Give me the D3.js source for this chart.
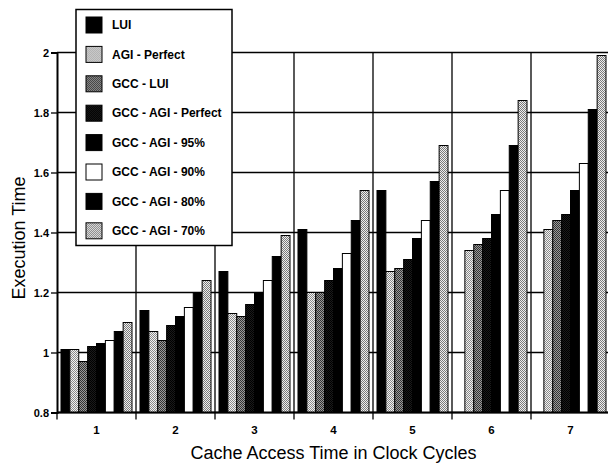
<!DOCTYPE html>
<html>
<head>
<meta charset="utf-8">
<script src="https://cdn.jsdelivr.net/npm/d3@7"></script>
<style>
  html, body { margin: 0; padding: 0; background: #fff; }
  svg { display: block; font-family: "Liberation Sans", Arial, Helvetica, sans-serif; }
</style>
</head>
<body>
<svg id="chart" width="608" height="465"></svg>
<script>
const categories = ["1", "2", "3", "4", "5", "6", "7"];
const seriesNames = ["LUI", "AGI - Perfect", "GCC - LUI", "GCC - AGI - Perfect",
                     "GCC - AGI - 95%", "GCC - AGI - 90%", "GCC - AGI - 80%", "GCC - AGI - 70%"];
const lui          = [1.01, 1.14, 1.27, 1.41, 1.54, null, null];
const agiPerfect   = [1.01, 1.07, 1.13, 1.20, 1.27, 1.34, 1.41];
const gccLui       = [0.97, 1.04, 1.12, 1.20, 1.28, 1.36, 1.44];
const gccAgiPerfect= [1.02, 1.09, 1.16, 1.24, 1.31, 1.38, 1.46];
const gccAgi95     = [1.03, 1.12, 1.20, 1.28, 1.38, 1.46, 1.54];
const gccAgi90     = [1.04, 1.15, 1.24, 1.33, 1.44, 1.54, 1.63];
const gccAgi80     = [1.07, 1.20, 1.32, 1.44, 1.57, 1.69, 1.81];
const gccAgi70     = [1.10, 1.24, 1.39, 1.54, 1.69, 1.84, 1.99];
const yTicks = [0.8, 1, 1.2, 1.4, 1.6, 1.8, 2];
const yTickLabels = ["0.8", "1", "1.2", "1.4", "1.6", "1.8", "2"];
const xTitle = "Cache Access Time in Clock Cycles";
const yTitle = "Execution Time";

const seriesValues = [lui, agiPerfect, gccLui, gccAgiPerfect, gccAgi95, gccAgi90, gccAgi80, gccAgi70];
const fills = ["#000", "url(#pLight)", "url(#pMid)", "url(#pDark)", "#000", "#fff", "#000", "url(#pLight2)"];

const svg = d3.select("#chart");
const mLeft = 57, mRight = 610, mTop = 52.5, mBottom = 412.5;

const defs = svg.append("defs");
function pattern(id, bg, fg) {
  const p = defs.append("pattern").attr("id", id).attr("patternUnits", "userSpaceOnUse")
    .attr("width", 2).attr("height", 2);
  p.append("rect").attr("width", 2).attr("height", 2).attr("fill", bg);
  p.append("rect").attr("x", 0).attr("y", 0).attr("width", 1).attr("height", 1).attr("fill", fg);
  p.append("rect").attr("x", 1).attr("y", 1).attr("width", 1).attr("height", 1).attr("fill", fg);
}
pattern("pLight", "#f2f2f2", "#8a8a8a");
pattern("pLight2", "#eeeeee", "#7a7a7a");
pattern("pMid", "#9a9a9a", "#333333");
pattern("pDark", "#1a1a1a", "#000000");

const x = d3.scaleBand().domain(categories).range([mLeft, mRight]).padding(0);
const xi = d3.scaleBand().domain(seriesNames).range([0, x.bandwidth()]).paddingInner(0).paddingOuter(0.45);
const y = d3.scaleLinear().domain([0.8, 2]).range([mBottom, mTop]);

// horizontal gridlines
svg.append("g").selectAll("line").data(yTicks).join("line")
  .attr("x1", mLeft).attr("x2", mRight)
  .attr("y1", d => y(d)).attr("y2", d => y(d))
  .attr("stroke", "#000").attr("stroke-width", 1.3);

// vertical gridlines at group boundaries
svg.append("g").selectAll("line").data(categories.slice(1)).join("line")
  .attr("x1", d => x(d)).attr("x2", d => x(d))
  .attr("y1", mTop).attr("y2", mBottom)
  .attr("stroke", "#000").attr("stroke-width", 1.3);

// bars
const barData = [];
seriesNames.forEach((s, si) => {
  categories.forEach((c, ci) => {
    const v = seriesValues[si][ci];
    if (v != null) barData.push({ s, si, c, v });
  });
});
svg.append("g").selectAll("rect").data(barData).join("rect")
  .attr("x", d => x(d.c) + xi(d.s))
  .attr("width", xi.bandwidth())
  .attr("y", d => y(d.v))
  .attr("height", d => y(0.8) - y(d.v))
  .attr("fill", d => fills[d.si])
  .attr("stroke", "#000").attr("stroke-width", 1);

// y axis
const yAxis = d3.axisLeft(y).tickValues(yTicks).tickSize(6).tickPadding(2)
  .tickFormat((d, i) => yTickLabels[i]);
const gy = svg.append("g").attr("transform", `translate(${mLeft},0)`).call(yAxis);
gy.select(".domain").attr("stroke-width", 2);
gy.selectAll(".tick line").attr("stroke-width", 1.3);
gy.selectAll("text").attr("font-size", 11).attr("font-weight", "bold")
  .attr("font-family", "Liberation Sans, Arial, sans-serif").attr("fill", "#000");

// x axis: labels at centers, ticks at boundaries
const xAxis = d3.axisBottom(x).tickSize(0).tickPadding(13);
const gx = svg.append("g").attr("transform", `translate(0,${mBottom})`).call(xAxis);
gx.select(".domain").remove();
gx.selectAll("text").attr("font-size", 11.5).attr("font-weight", "bold")
  .attr("font-family", "Liberation Sans, Arial, sans-serif").attr("fill", "#000");
svg.append("line").attr("x1", mLeft).attr("x2", mRight).attr("y1", mBottom).attr("y2", mBottom)
  .attr("stroke", "#000").attr("stroke-width", 2);
svg.append("g").selectAll("line").data(categories).join("line")
  .attr("x1", d => x(d)).attr("x2", d => x(d))
  .attr("y1", mBottom).attr("y2", mBottom + 7)
  .attr("stroke", "#000").attr("stroke-width", 1.3);

// titles
svg.append("text").attr("x", 333.5).attr("y", 459).attr("text-anchor", "middle")
  .attr("font-size", 18).attr("fill", "#000").text(xTitle);
svg.append("text").attr("transform", "translate(25,238) rotate(-90)").attr("text-anchor", "middle")
  .attr("font-size", 18).attr("fill", "#000").text(yTitle);

// legend
const lg = svg.append("g");
lg.append("rect").attr("x", 76).attr("y", 9.5).attr("width", 156).attr("height", 236)
  .attr("fill", "#fff").attr("stroke", "#000").attr("stroke-width", 1.5);
const rows = lg.selectAll("g.row").data(seriesNames).join("g").attr("class", "row")
  .attr("transform", (d, i) => `translate(0,${25 + i * 29.4})`);
rows.append("rect").attr("x", 86).attr("y", -8).attr("width", 16).attr("height", 16)
  .attr("fill", (d, i) => fills[i]).attr("stroke", "#000").attr("stroke-width", 1);
rows.append("text").attr("x", 112).attr("y", 0).attr("dy", "0.35em")
  .attr("font-size", 12).attr("font-weight", "bold").attr("fill", "#000").text(d => d);
</script>
</body>
</html>
